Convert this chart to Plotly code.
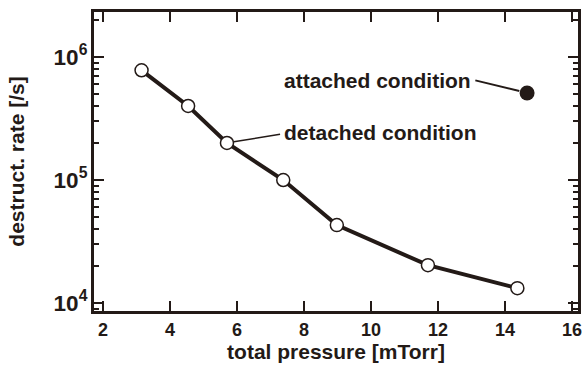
import plotly.graph_objects as go

det_x = [3.15, 4.54, 5.70, 7.38, 8.98, 11.70, 14.37]
det_y = [7.8e5, 4.0e5, 2.0e5, 1.0e5, 4.3e4, 2.03e4, 1.32e4]
att_x = [14.66]
att_y = [5.1e5]

FONT = "Liberation Sans"
INK = "#231a17"
TXT = dict(family=FONT, size=21, color=INK, weight="bold")
TICK = dict(family=FONT, size=18, color=INK, weight="bold")

fig = go.Figure()
fig.add_trace(go.Scatter(x=det_x, y=det_y, mode="lines+markers",
                         line=dict(color=INK, width=4),
                         marker=dict(symbol="circle", size=13, color="white",
                                     line=dict(color=INK, width=1.5)),
                         showlegend=False))
fig.add_trace(go.Scatter(x=att_x, y=att_y, mode="markers",
                         marker=dict(symbol="circle", size=15, color=INK),
                         showlegend=False))

fig.update_layout(
    width=587, height=365,
    margin=dict(l=94, r=5, t=12, b=54),
    paper_bgcolor="white", plot_bgcolor="white",
    font=dict(family=FONT, color=INK),
    xaxis=dict(range=[1.73, 16.18], dtick=2, tick0=2, ticks="inside", ticklen=10, tickwidth=2,
               tickcolor=INK, showline=True, linewidth=3, linecolor=INK, mirror="ticks",
               showgrid=False, zeroline=False, tickfont=TICK,
               title=dict(text="total pressure [mTorr]", standoff=2, font=TXT)),
    yaxis=dict(type="log", range=[3.935, 6.366], dtick=1, ticks="inside", ticklen=10, tickwidth=2,
               tickcolor=INK, showline=True, linewidth=3, linecolor=INK, mirror="ticks",
               showgrid=False, zeroline=False, exponentformat="power",
               minor=dict(ticks="inside", ticklen=5, tickwidth=2, tickcolor=INK, showgrid=False),
               tickfont=TICK,
               title=dict(text="destruct. rate [/s]", standoff=24, font=TXT)),
)
# labels with leader lines, anchored to data coordinates
fig.add_annotation(x=14.66, y=5.7076, xref="x", yref="y", ax=13.07, ay=5.813, axref="x", ayref="y",
                   text="", showarrow=True, arrowhead=0, arrowwidth=2, arrowcolor=INK,
                   standoff=8)
fig.add_annotation(x=7.33, y=5.813, xref="x", yref="y", text="attached condition",
                   showarrow=False, xanchor="left", font=TXT)
fig.add_annotation(x=5.70, y=5.301, xref="x", yref="y", ax=7.33, ay=5.374, axref="x", ayref="y",
                   text="", showarrow=True, arrowhead=0, arrowwidth=1.5, arrowcolor=INK,
                   standoff=7)
fig.add_annotation(x=7.33, y=5.39, xref="x", yref="y", text="detached condition",
                   showarrow=False, xanchor="left", font=TXT)
fig.write_html("out.html")
